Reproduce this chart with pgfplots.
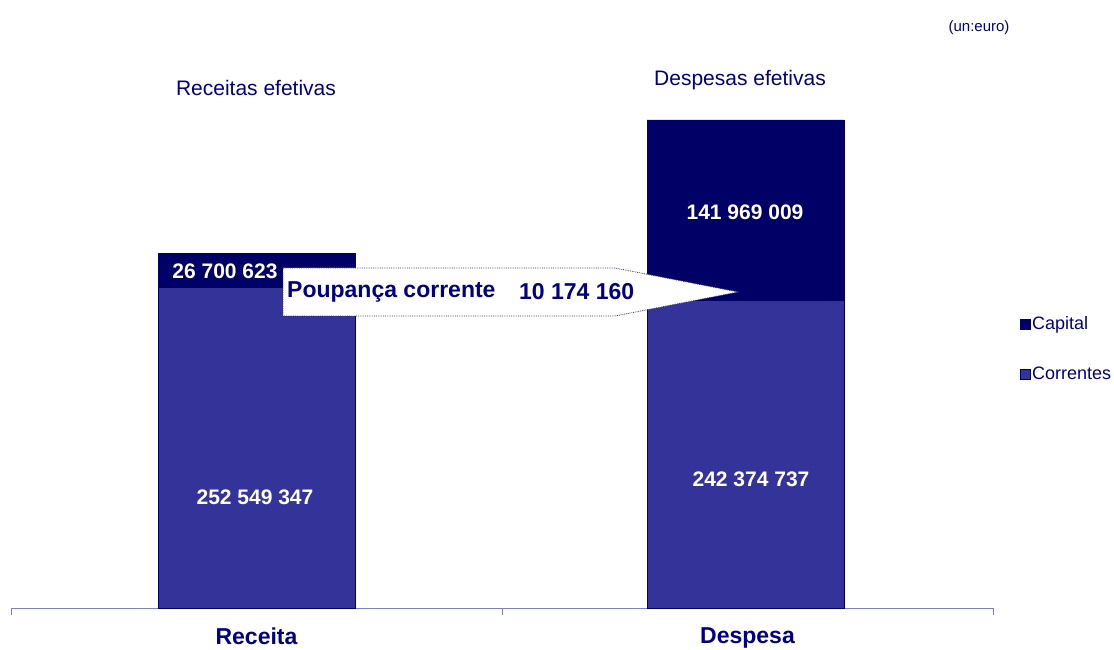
\documentclass[border=0pt]{standalone}
\usepackage{pgfplots}
\pgfplotsset{compat=1.18}
\usepackage{fontspec}
\setmainfont{Liberation Sans}
\definecolor{corr}{HTML}{333399}
\definecolor{cap}{HTML}{000066}
\definecolor{navy}{HTML}{000080}
\definecolor{axiscol}{HTML}{8080C0}
\definecolor{dotcol}{HTML}{333366}
\begin{document}
\begin{tikzpicture}[x=1pt,y=1pt]
\useasboundingbox (0,0) rectangle (1114,649);
\begin{axis}[
  at={(11pt,41pt)}, anchor=south west,
  scale only axis, width=982pt, height=508pt,
  xmin=-0.5, xmax=1.5, ymin=0, ymax=400000000,
  ybar stacked, bar width=197pt,
  axis x line=bottom, axis y line=none,
  x axis line style={-, draw=axiscol, line width=1pt},
  xtick={0,1}, xticklabels={Receita,Despesa},
  major x tick style={draw=none},
  xticklabel style={font=\fontsize{23}{27}\selectfont\bfseries, text=navy, yshift=-14pt},
  extra x ticks={-0.5,0.5,1.5}, extra x tick labels={},
  extra x tick style={tick align=outside, major tick length=7pt, major x tick style={draw=axiscol, line width=1pt}},
  legend style={at={(rel axis cs:1.027,0.578)}, anchor=north west, draw=none, fill=none,
    font=\fontsize{18}{21}\selectfont, text=navy, row sep=32pt, inner sep=0pt,
    legend cell align=left},
  legend image code/.code={\fill[#1] (0pt,-5pt) rectangle (10pt,5pt);},
  reverse legend,
  clip=false,
]
\addplot[fill=corr, draw=cap, line width=0.5pt] coordinates {(0,252549347) (0.996,242374737)};
\addplot[fill=cap, draw=cap, line width=0.5pt] coordinates {(0,26700623) (0.996,141969009)};
\legend{Correntes,Capital}
\end{axis}
\begin{scope}[every node/.style={font=\fontsize{21}{25}\selectfont\bfseries, text=white, inner sep=0pt}]
\node at (225,378) {26 700 623};
\node at (745,437) {141 969 009};
\node at (255,152) {252 549 347};
\node at (751,170) {242 374 737};
\end{scope}
\filldraw[fill=white, draw=dotcol, densely dotted, line width=0.8pt]
  (283,381) -- (615,381) -- (738,357) -- (615,333) -- (283,333) -- cycle;
\node[anchor=west, inner sep=0pt, font=\fontsize{23}{27}\selectfont\bfseries, text=navy] at (287,357) {Poupança corrente};
\node[anchor=west, inner sep=0pt, font=\fontsize{23}{27}\selectfont\bfseries, text=navy] at (519,357) {10 174 160};
\node[font=\fontsize{21}{25}\selectfont, text=navy] at (256,561) {Receitas efetivas};
\node[font=\fontsize{21}{25}\selectfont, text=navy] at (740,569) {Despesas efetivas};
\node[font=\fontsize{15}{18}\selectfont, text=navy] at (979,621) {(un:euro)};
\end{tikzpicture}
\end{document}
